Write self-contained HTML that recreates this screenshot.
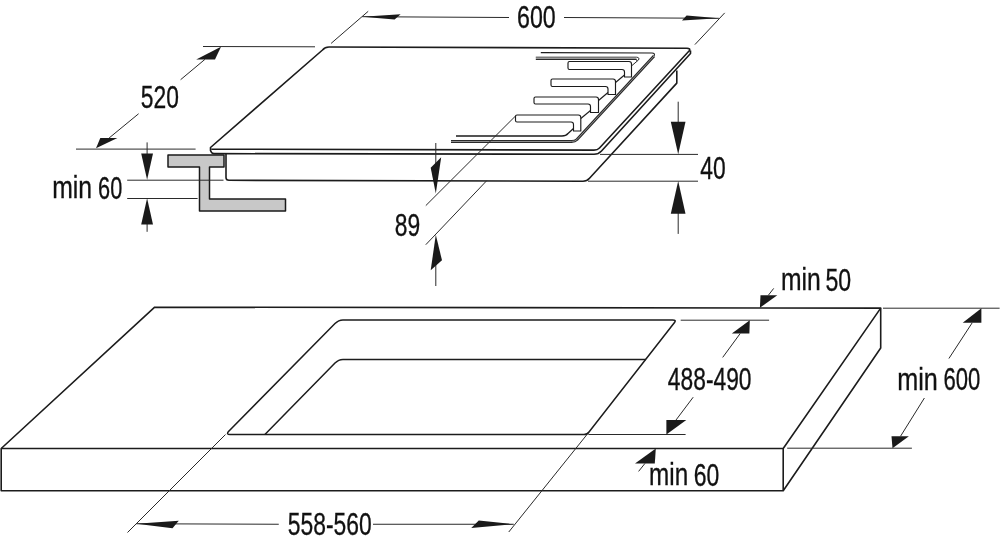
<!DOCTYPE html>
<html><head><meta charset="utf-8"><style>
html,body{margin:0;padding:0;background:#fff;width:1000px;height:543px;overflow:hidden}
svg{display:block;will-change:transform}
text{font-family:"Liberation Sans",sans-serif}
</style></head><body>
<svg width="1000" height="543" viewBox="0 0 1000 543">
<rect width="1000" height="543" fill="#fff"/>
<path d="M211.5,149.2 L594,150.1 Q597.5,150.1 599.5,148 L689.5,50.5 Q690.5,48.4 687,48.3 L329,47 Q325,47 322.5,50 L210.5,147.5 L210.5,150.5 Q211.5,153.6 214,153.6 L594,154.3 Q598.5,154.3 601.5,151 L690.5,53.5 L690.5,50.5" stroke="#1c1c1c" stroke-width="1.6" fill="none" stroke-linejoin="round"/>
<path d="M226,153.5 L226,177.5 Q226,180.3 229,180.3 L583,181.2 Q587,181.2 589.5,178.3 L676.8,83.1 L676.8,70.5" stroke="#1c1c1c" stroke-width="1.6" fill="none" stroke-linejoin="round"/>
<path d="M540.8,52.6 L652,53 Q655.5,53 654,56" stroke="#1c1c1c" stroke-width="1.1" fill="none" stroke-linejoin="round"/>
<path d="M654,56 L577,139.5 Q575,141.5 571.5,141.5 L451,141.5" stroke="#2a2a2a" stroke-width="2.8" fill="none" stroke-linejoin="round"/>
<path d="M654,56 L577,139.5 Q575,141.5 571.5,141.5 L451,141.5" stroke="#9a9a9a" stroke-width="0.9" fill="none" stroke-linejoin="round"/>
<path d="M535.8,57.2 L636.5,57.2 Q640,57.5 638.5,60 L632,65.5" stroke="#2a2a2a" stroke-width="1.0" fill="none" stroke-linejoin="round"/>
<path d="M535.8,59.5 L636,59.5 Q637.5,59.6 636.8,61" stroke="#2a2a2a" stroke-width="1.0" fill="none" stroke-linejoin="round"/>
<path d="M535.8,58.35 L636.5,58.35" stroke="#9a9a9a" stroke-width="1.3" fill="none" stroke-linejoin="round"/>
<path d="M456,136 L562,136 Q566,136 568,133.5 L573.5,128.5" stroke="#1c1c1c" stroke-width="1.3" fill="none" stroke-linejoin="round"/>
<path d="M568,63.0 Q568,61.5 569.5,61.5 L629.0,61.5 Q631.5,61.5 631.5,64.0 L631.5,77 L624.5,77 L624.5,72.0 Q624.5,69.5 622.0,69.5 L569.5,69.5 Q568,69.5 568,68.0 Z" stroke="#1c1c1c" stroke-width="1.15" fill="none" stroke-linejoin="round"/>
<path d="M551,80.5 Q551,79 552.5,79 L613.0,79 Q615.5,79 615.5,81.5 L615.5,94.5 L608,94.5 L608,89.0 Q608,86.5 605.5,86.5 L552.5,86.5 Q551,86.5 551,85.0 Z" stroke="#1c1c1c" stroke-width="1.15" fill="none" stroke-linejoin="round"/>
<path d="M534,98.5 Q534,97 535.5,97 L596.0,97 Q598.5,97 598.5,99.5 L598.5,112.5 L590.5,112.5 L590.5,106.5 Q590.5,104 588.0,104 L535.5,104 Q534,104 534,102.5 Z" stroke="#1c1c1c" stroke-width="1.15" fill="none" stroke-linejoin="round"/>
<path d="M515.5,116.5 Q515.5,115 517.0,115 L578.3,115 Q580.8,115 580.8,117.5 L580.8,131 L573.5,131 L573.5,124.5 Q573.5,122 571.0,122 L517.0,122 Q515.5,122 515.5,120.5 Z" stroke="#1c1c1c" stroke-width="1.15" fill="none" stroke-linejoin="round"/>
<path d="M624.5,75 L615.5,82.5" stroke="#1c1c1c" stroke-width="1.1" fill="none" stroke-linejoin="round"/>
<path d="M608,92.5 L598.5,100.5" stroke="#1c1c1c" stroke-width="1.1" fill="none" stroke-linejoin="round"/>
<path d="M590.5,110.5 L580.8,118.5" stroke="#1c1c1c" stroke-width="1.1" fill="none" stroke-linejoin="round"/>
<path d="M168,155 L224,155 L224,167 L209.5,167 L209.5,199 L285.5,199 L285.5,211 L199.5,211 L199.5,167 L168,167 Z" stroke="#1a1a1a" stroke-width="1.5" fill="#c8c8c8" stroke-linejoin="round"/>
<line x1="331.1" y1="43.4" x2="368.2" y2="11.3" stroke="#2a2a2a" stroke-width="1.0"/>
<line x1="694.9" y1="44.6" x2="724.7" y2="12.9" stroke="#2a2a2a" stroke-width="1.0"/>
<line x1="362.2" y1="16.7" x2="509" y2="17.5" stroke="#2a2a2a" stroke-width="1.0"/>
<line x1="564" y1="17.5" x2="718.9" y2="18.3" stroke="#2a2a2a" stroke-width="1.0"/>
<polygon points="362.2,16.7 400.6,14.3 394.6,19.4" fill="#1a1a1a"/>
<polygon points="718.9,18.3 686.6,15.6 682,20.6" fill="#1a1a1a"/>
<text transform="translate(517.07,27.68) scale(0.7441,1)" font-size="31.16" fill="#111" stroke="#111" stroke-width="0.35">600</text>
<line x1="203" y1="46.5" x2="315" y2="46.8" stroke="#2a2a2a" stroke-width="1.0"/>
<line x1="204.9" y1="59.4" x2="180.6" y2="79.7" stroke="#2a2a2a" stroke-width="1.0"/>
<line x1="138.6" y1="113.75" x2="109.1" y2="138" stroke="#2a2a2a" stroke-width="1.0"/>
<polygon points="221,46.8 196.2,59.4 215,59.4" fill="#1a1a1a"/>
<polygon points="96,148.3 100.3,138 117.4,138" fill="#1a1a1a"/>
<text transform="translate(140.76,108.38) scale(0.7373,1)" font-size="30.96" fill="#111" stroke="#111" stroke-width="0.35">520</text>
<line x1="76" y1="149.1" x2="195.6" y2="149.1" stroke="#2a2a2a" stroke-width="1.0"/>
<line x1="127.2" y1="180.2" x2="223.5" y2="180.2" stroke="#2a2a2a" stroke-width="1.0"/>
<line x1="127.2" y1="198.5" x2="197.6" y2="198.5" stroke="#2a2a2a" stroke-width="1.0"/>
<line x1="147.1" y1="142.4" x2="147.1" y2="160" stroke="#2a2a2a" stroke-width="1.0"/>
<line x1="147.1" y1="218" x2="147.1" y2="231.8" stroke="#2a2a2a" stroke-width="1.0"/>
<polygon points="141.2,153.4 153,153.4 147.1,179.8" fill="#1a1a1a"/>
<polygon points="141.2,224.5 153,224.5 147.1,198.3" fill="#1a1a1a"/>
<text transform="translate(52.22,198.33) scale(0.7674,1)" font-size="32.27" fill="#111" stroke="#111" stroke-width="0.35">min</text>
<text transform="translate(98.11,198.68) scale(0.6880,1)" font-size="31.55" fill="#111" stroke="#111" stroke-width="0.35">60</text>
<line x1="425.8" y1="205.6" x2="515.5" y2="116" stroke="#2a2a2a" stroke-width="1.0"/>
<line x1="425.8" y1="244.7" x2="486.7" y2="180.7" stroke="#2a2a2a" stroke-width="1.0"/>
<line x1="435.8" y1="143" x2="435.8" y2="170" stroke="#2a2a2a" stroke-width="1.0"/>
<line x1="435.8" y1="255" x2="435.8" y2="286" stroke="#2a2a2a" stroke-width="1.0"/>
<polygon points="435.8,193.4 430.7,167.8 441.2,157.2" fill="#1a1a1a"/>
<polygon points="435.8,234.7 430.7,270.3 442,260.3" fill="#1a1a1a"/>
<text transform="translate(394.83,235.85) scale(0.7476,1)" font-size="30.59" fill="#111" stroke="#111" stroke-width="0.35">89</text>
<line x1="600" y1="154.4" x2="698" y2="154.4" stroke="#2a2a2a" stroke-width="1.0"/>
<line x1="588" y1="181.2" x2="698" y2="181.2" stroke="#2a2a2a" stroke-width="1.0"/>
<line x1="678.2" y1="101.7" x2="678.2" y2="130" stroke="#2a2a2a" stroke-width="1.0"/>
<line x1="678.2" y1="205" x2="678.2" y2="233.9" stroke="#2a2a2a" stroke-width="1.0"/>
<polygon points="670.8,121.7 685.5,121.7 678.2,154.3" fill="#1a1a1a"/>
<polygon points="670.8,213.8 685.5,213.8 678.2,181.1" fill="#1a1a1a"/>
<text transform="translate(700.31,178.73) scale(0.7399,1)" font-size="30.88" fill="#111" stroke="#111" stroke-width="0.35">40</text>
<path d="M154.7,307.2 L880.7,308.1 L880.7,348 L783.2,490.8 L1.2,490.8 L1.2,448.5 Z" stroke="#1c1c1c" stroke-width="1.6" fill="none" stroke-linejoin="round"/>
<path d="M1.2,448.5 L783.2,448.5 L880.7,308.1" stroke="#1c1c1c" stroke-width="1.6" fill="none" stroke-linejoin="round"/>
<line x1="783.2" y1="448.5" x2="783.2" y2="490.8" stroke="#1c1c1c" stroke-width="1.6"/>
<path d="M343,319.9 L672.5,319.9 Q676.5,319.9 674.5,322.5 L589,432 Q587.5,434.5 584,434.5 L230,434.5 Q226,434.5 228.5,431.5 L335,323.5 Q338.5,319.9 343,319.9 Z" stroke="#1c1c1c" stroke-width="1.5" fill="none" stroke-linejoin="round"/>
<path d="M264.9,434.5 L335,363 Q338.5,359.4 343,359.4 L645.9,359.4" stroke="#1c1c1c" stroke-width="1.5" fill="none" stroke-linejoin="round"/>
<line x1="127.5" y1="532.5" x2="225.5" y2="434.5" stroke="#2a2a2a" stroke-width="1.0"/>
<line x1="508.75" y1="532" x2="587" y2="434.5" stroke="#2a2a2a" stroke-width="1.0"/>
<line x1="136.25" y1="523.75" x2="278.75" y2="524.25" stroke="#2a2a2a" stroke-width="1.0"/>
<line x1="373" y1="524.25" x2="513.75" y2="524.25" stroke="#2a2a2a" stroke-width="1.0"/>
<polygon points="136.25,523.75 178.75,520.75 172.5,528.25" fill="#1a1a1a"/>
<polygon points="513.75,524.25 478.75,520.5 471.25,528" fill="#1a1a1a"/>
<text transform="translate(287.80,534.80) scale(0.7152,1)" font-size="31.98" fill="#111" stroke="#111" stroke-width="0.35">558-560</text>
<line x1="680.7" y1="320.2" x2="769.1" y2="320.2" stroke="#2a2a2a" stroke-width="1.0"/>
<line x1="588.4" y1="434.5" x2="685.6" y2="434.5" stroke="#2a2a2a" stroke-width="1.0"/>
<polygon points="749.8,320.2 731.8,333.6 749.4,333.6" fill="#1a1a1a"/>
<line x1="740.2" y1="333.5" x2="722.7" y2="357.4" stroke="#2a2a2a" stroke-width="1.0"/>
<polygon points="666.4,434.5 666.4,420.1 686.3,420.1" fill="#1a1a1a"/>
<line x1="676" y1="420" x2="693.2" y2="397.2" stroke="#2a2a2a" stroke-width="1.0"/>
<text transform="translate(667.86,389.83) scale(0.7416,1)" font-size="30.74" fill="#111" stroke="#111" stroke-width="0.35">488-490</text>
<polygon points="759.9,307.8 760.5,295.3 777.3,295.3" fill="#1a1a1a"/>
<line x1="768.3" y1="295.3" x2="773.7" y2="288.4" stroke="#2a2a2a" stroke-width="1.0"/>
<text transform="translate(780.90,290.43) scale(0.7796,1)" font-size="31.72" fill="#111" stroke="#111" stroke-width="0.35">min</text>
<text transform="translate(825.45,290.72) scale(0.7382,1)" font-size="31.30" fill="#111" stroke="#111" stroke-width="0.35">50</text>
<line x1="883" y1="308.2" x2="999.6" y2="308.2" stroke="#2a2a2a" stroke-width="1.0"/>
<line x1="787.2" y1="448.2" x2="911.9" y2="448.2" stroke="#2a2a2a" stroke-width="1.0"/>
<polygon points="981.4,308.2 962.7,322.8 981.4,322.8" fill="#1a1a1a"/>
<line x1="972.2" y1="322.8" x2="948.9" y2="358.5" stroke="#2a2a2a" stroke-width="1.0"/>
<polygon points="892.5,448.2 891.5,436.3 908.9,436.3" fill="#1a1a1a"/>
<line x1="900.5" y1="436.3" x2="924.4" y2="398" stroke="#2a2a2a" stroke-width="1.0"/>
<text transform="translate(897.19,389.83) scale(0.7986,1)" font-size="31.53" fill="#111" stroke="#111" stroke-width="0.35">min</text>
<text transform="translate(943.38,390.00) scale(0.7067,1)" font-size="31.26" fill="#111" stroke="#111" stroke-width="0.35">600</text>
<polygon points="655.8,448.6 635,463.4 654.8,463.4" fill="#1a1a1a"/>
<line x1="645" y1="463.4" x2="638.6" y2="471.4" stroke="#2a2a2a" stroke-width="1.0"/>
<text transform="translate(649.06,485.23) scale(0.7521,1)" font-size="32.27" fill="#111" stroke="#111" stroke-width="0.35">min</text>
<text transform="translate(693.70,485.57) scale(0.7281,1)" font-size="31.54" fill="#111" stroke="#111" stroke-width="0.35">60</text>
</svg>
</body></html>
